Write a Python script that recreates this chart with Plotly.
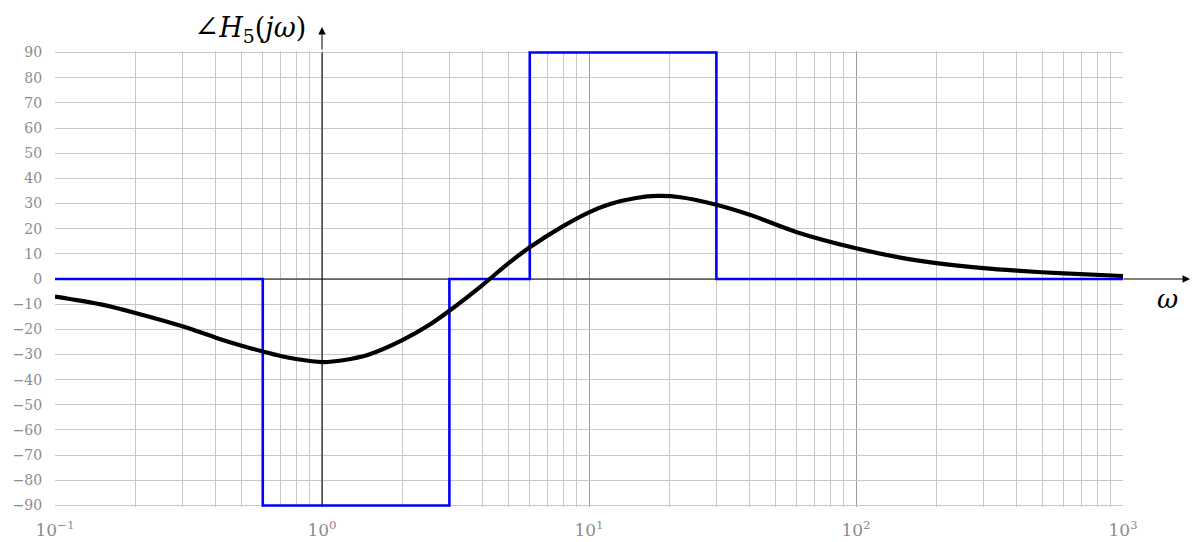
import plotly.graph_objects as go

# Phase response of H5(jw), degrees, sampled along a log frequency axis
omega = [0.1, 0.15, 0.2, 0.3, 0.4, 0.5, 0.6, 0.7, 0.8, 1.0, 1.2, 1.5, 2.0, 2.5, 3.0,
         4.0, 5.0, 6.0, 8.0, 10.0, 12.0, 15.0, 18.0, 22.0, 30.0, 40.0, 60.0, 100.0,
         150.0, 200.0, 300.0, 400.0, 600.0, 1000.0]
phase = [-7.0, -10.2, -13.5, -18.8, -23.3, -26.5, -28.8, -30.6, -31.8, -33.0, -32.3,
         -30.0, -24.3, -18.5, -12.6, -2.3, 6.3, 12.6, 21.0, 26.5, 29.8, 32.2, 33.0,
         32.5, 29.5, 25.5, 18.6, 12.2, 8.3, 6.3, 4.3, 3.3, 2.2, 1.2]

# Straight-line (asymptotic) approximation: breakpoints and the level after each one
asym_w = [0.1, 0.6, 3.0, 6.0, 30.0, 1000.0]
asym_p = [0, -90, 0, 90, 0, 0]

y_ticks = list(range(-90, 91, 10))
y_text = [("\u2212" + str(-v)) if v < 0 else str(v) for v in y_ticks]
x_ticks = [0.1, 1, 10, 100, 1000]
x_text = ["10<sup>\u22121</sup>", "10<sup>0</sup>", "10<sup>1</sup>", "10<sup>2</sup>", "10<sup>3</sup>"]
minor_x = [m * 10 ** e for e in range(-1, 3) for m in range(2, 10)]

FONT = "'DejaVu Serif', 'Liberation Serif', serif"
GRID = "#c8c8c8"
MAJOR = "#9a9a9a"
TICKC = "#8c8c8c"

fig = go.Figure()

# coordinate axes inside the plot area (drawn first, under the curves)
fig.add_trace(go.Scatter(x=[0.1, 1000], y=[0, 0], mode="lines",
                         line=dict(color="black", width=1), hoverinfo="skip"))
fig.add_trace(go.Scatter(x=[1, 1], y=[-90, 90], mode="lines",
                         line=dict(color="black", width=1), hoverinfo="skip"))

fig.add_trace(go.Scatter(x=asym_w, y=asym_p, mode="lines", line_shape="hv",
                         line=dict(color="#0000ff", width=2.6)))
fig.add_trace(go.Scatter(x=omega, y=phase, mode="lines", line_shape="spline",
                         line=dict(color="black", width=4.2, smoothing=0.8)))

fig.update_layout(
    width=1196, height=542,
    margin=dict(l=55, r=73, t=51, b=35, autoexpand=False),
    paper_bgcolor="white", plot_bgcolor="white",
    showlegend=False,
    font=dict(family=FONT, size=14, color=TICKC),
    xaxis=dict(
        type="log", range=[-1, 3], automargin=False,
        tickmode="array", tickvals=x_ticks, ticktext=x_text,
        showgrid=True, gridcolor=MAJOR, gridwidth=1,
        minor=dict(tickmode="array", tickvals=minor_x, showgrid=True,
                   gridcolor=GRID, gridwidth=1),
        ticks="outside", ticklen=8, tickcolor="rgba(0,0,0,0)",
        zeroline=False, showline=False,
        tickfont=dict(family=FONT, size=17, color=TICKC),
    ),
    yaxis=dict(
        range=[-90.6, 90.6], automargin=False,
        tickmode="array", tickvals=y_ticks, ticktext=y_text,
        showgrid=True, gridcolor=GRID, gridwidth=1,
        ticks="outside", ticklen=9, tickcolor="rgba(0,0,0,0)",
        zeroline=False, showline=False,
        tickfont=dict(family=FONT, size=14, color=TICKC),
    ),
)

annotations = [
    # arrow tips of the coordinate axes, outside the plot area
    dict(x=0.25, y=1.0526, xref="paper", yref="paper", text="", showarrow=True,
         ax=0, ay=24, axref="pixel", ayref="pixel",
         arrowhead=2, arrowsize=1.5, arrowwidth=1, arrowcolor="black"),
    dict(x=1.0628, y=0.5, xref="paper", yref="paper", text="", showarrow=True,
         ax=-68, ay=0, axref="pixel", ayref="pixel",
         arrowhead=2, arrowsize=1.5, arrowwidth=1, arrowcolor="black"),
    dict(x=0.1826, y=1.05, xref="paper", yref="paper", showarrow=False,
         xanchor="center", yanchor="middle",
         text="<span style='font-size:30px'>\u2220</span><i>H</i><sub>5</sub>(<i>j\u03c9</i>)",
         font=dict(family=FONT, size=27, color="black")),
    dict(x=1.042, y=0.457, xref="paper", yref="paper", showarrow=False,
         xanchor="center", yanchor="middle",
         text="<i>\u03c9</i>", font=dict(family=FONT, size=26, color="black")),
]
fig.update_layout(annotations=annotations)

fig.write_html("out.html")
